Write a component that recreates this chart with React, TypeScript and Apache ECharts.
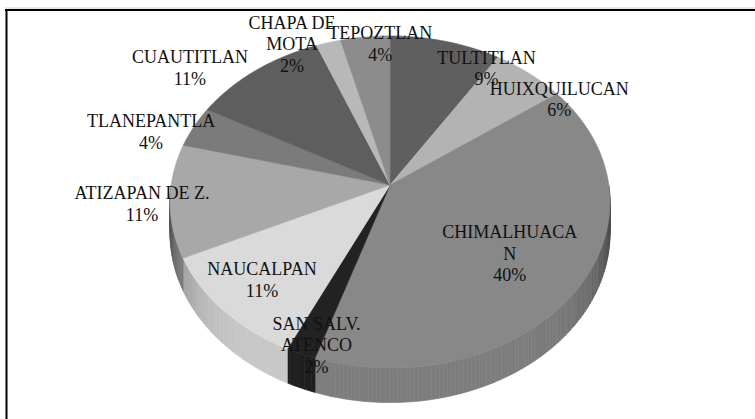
import React, { useEffect, useRef } from 'react';
import * as echarts from 'echarts';

// ---- data (clockwise from 12 o'clock) ----
const categories = [
  'TULTITLAN',
  'HUIXQUILUCAN',
  'CHIMALHUACA\nN',
  'SAN SALV.\nATENCO',
  'NAUCALPAN',
  'ATIZAPAN DE Z.',
  'TLANEPANTLA',
  'CUAUTITLAN',
  'CHAPA DE\nMOTA',
  'TEPOZTLAN',
];
const percentages = [9, 6, 40, 2, 11, 11, 4, 11, 2, 4];
const sliceColors = [
  '#5f5f5f', '#b3b3b3', '#888888', '#222222', '#dadada',
  '#a8a8a8', '#7b7b7b', '#5e5e5e', '#b8b8b8', '#8c8c8c',
];
const titleText = 'Gráfica de Residencia';

// ---- layout (not data) ----
// label placement relative to slice middle: [angle shift in degrees, radius fraction]
const labelShift: number[][] = [
  [15.7, 0.9], [12.8, 0.985], [1.3, 0.66], [-2.6, 0.937], [0.4, 0.776],
  [-0.4, 1.126], [-5.2, 1.177], [-10.7, 1.25], [-9.6, 1.06], [4.2, 0.942],
];
const CX = 390;
const CY = 185;
const A = 218.8;
const B = 164.3;
const K = 0.1024;
const DEPTH = 31;
const FONT = "'Liberation Serif', 'Times New Roman', serif";

const total = percentages.reduce((a, b) => a + b, 0);
const starts: number[] = [];
const ends: number[] = [];
{
  let acc = 0;
  percentages.forEach((v) => {
    starts.push((acc / total) * 360);
    acc += v;
    ends.push((acc / total) * 360);
  });
}

function proj(deg: number, r: number, drop = 0): number[] {
  const t = (deg * Math.PI) / 180;
  const s = Math.sin(t);
  const c = Math.cos(t);
  const w = 1 + K * r * c;
  return [CX + (A * r * s) / w, CY - (B * r * c) / w + drop / w];
}

function shade(hex: string, f: number): string {
  const n = parseInt(hex.slice(1), 16);
  const r = Math.round(((n >> 16) & 255) * f);
  const g = Math.round(((n >> 8) & 255) * f);
  const b = Math.round((n & 255) * f);
  return `rgb(${r},${g},${b})`;
}

function arcPoints(s: number, e: number, r: number, drop = 0): number[][] {
  const pts: number[][] = [];
  const steps = Math.max(2, Math.ceil(e - s));
  for (let k = 0; k <= steps; k++) {
    pts.push(proj(s + ((e - s) * k) / steps, r, drop));
  }
  return pts;
}

export default function App() {
  const ref = useRef<HTMLDivElement>(null);
  useEffect(() => {
    if (!ref.current) return;
    const chart = echarts.init(ref.current, undefined, { renderer: 'svg' });
    const seriesData = percentages.map((v, i) => ({ name: categories[i], value: [v, i] }));

    const option: any = {
      animation: false,
      backgroundColor: '#ffffff',
      graphic: [
        {
          type: 'text',
          x: 400,
          y: 1,
          style: {
            text: titleText,
            fontFamily: FONT,
            fontWeight: 'bold',
            fontSize: 22,
            fill: '#000',
            align: 'center',
            verticalAlign: 'bottom',
          },
        },
        { type: 'line', shape: { x1: 5, y1: 8, x2: 755, y2: 8 }, style: { stroke: '#cccccc', lineWidth: 1 } },
        { type: 'line', shape: { x1: 5, y1: 10, x2: 755, y2: 10 }, style: { stroke: '#000', lineWidth: 2 } },
        { type: 'line', shape: { x1: 6.5, y1: 9, x2: 6.5, y2: 419 }, style: { stroke: '#000', lineWidth: 2 } },
      ],
      series: [
        {
          type: 'custom',
          name: 'sides',
          coordinateSystem: 'none',
          silent: true,
          z: 1,
          data: seriesData,
          renderItem: (params: any) => {
            const i = params.dataIndex;
            const s = Math.max(starts[i], 90);
            const e = Math.min(ends[i], 270);
            const children: any[] = [];
            if (e > s) {
              const steps = Math.max(1, Math.ceil(e - s));
              for (let k = 0; k < steps; k++) {
                const a = s + ((e - s) * k) / steps;
                const b = s + ((e - s) * (k + 1)) / steps;
                const mid = ((a + b) / 2) * (Math.PI / 180);
                const f = 0.92 - 0.42 * Math.pow(Math.abs(Math.sin(mid)), 8);
                const col = shade(sliceColors[i], f);
                children.push({
                  type: 'polygon',
                  shape: { points: [proj(a, 1), proj(b, 1), proj(b, 1, DEPTH), proj(a, 1, DEPTH)] },
                  style: { fill: col, stroke: col, lineWidth: 0.6 },
                });
              }
            }
            return { type: 'group', children };
          },
        },
        {
          type: 'custom',
          name: 'faces',
          coordinateSystem: 'none',
          silent: true,
          z: 2,
          data: seriesData,
          renderItem: (params: any) => {
            const i = params.dataIndex;
            const pts = [[CX, CY], ...arcPoints(starts[i], ends[i], 1)];
            return {
              type: 'polygon',
              shape: { points: pts },
              style: { fill: sliceColors[i], stroke: sliceColors[i], lineWidth: 0.6 },
            };
          },
        },
        {
          type: 'custom',
          name: 'labels',
          coordinateSystem: 'none',
          silent: true,
          z: 3,
          data: seriesData,
          renderItem: (params: any) => {
            const i = params.dataIndex;
            const mid = (starts[i] + ends[i]) / 2 + labelShift[i][0];
            const p = proj(mid, labelShift[i][1]);
            return {
              type: 'text',
              x: p[0],
              y: p[1],
              style: {
                text: `${categories[i]}\n${percentages[i]}%`,
                fontFamily: FONT,
                fontSize: 18,
                lineHeight: 21.5,
                fill: '#111111',
                align: 'center',
                verticalAlign: 'middle',
              },
            };
          },
        },
      ],
    };
    chart.setOption(option);
    return () => chart.dispose();
  }, []);
  return (
    <div
      ref={ref}
      style={{ position: 'fixed', left: 0, top: 0, width: 755, height: 419 }}
    />
  );
}
